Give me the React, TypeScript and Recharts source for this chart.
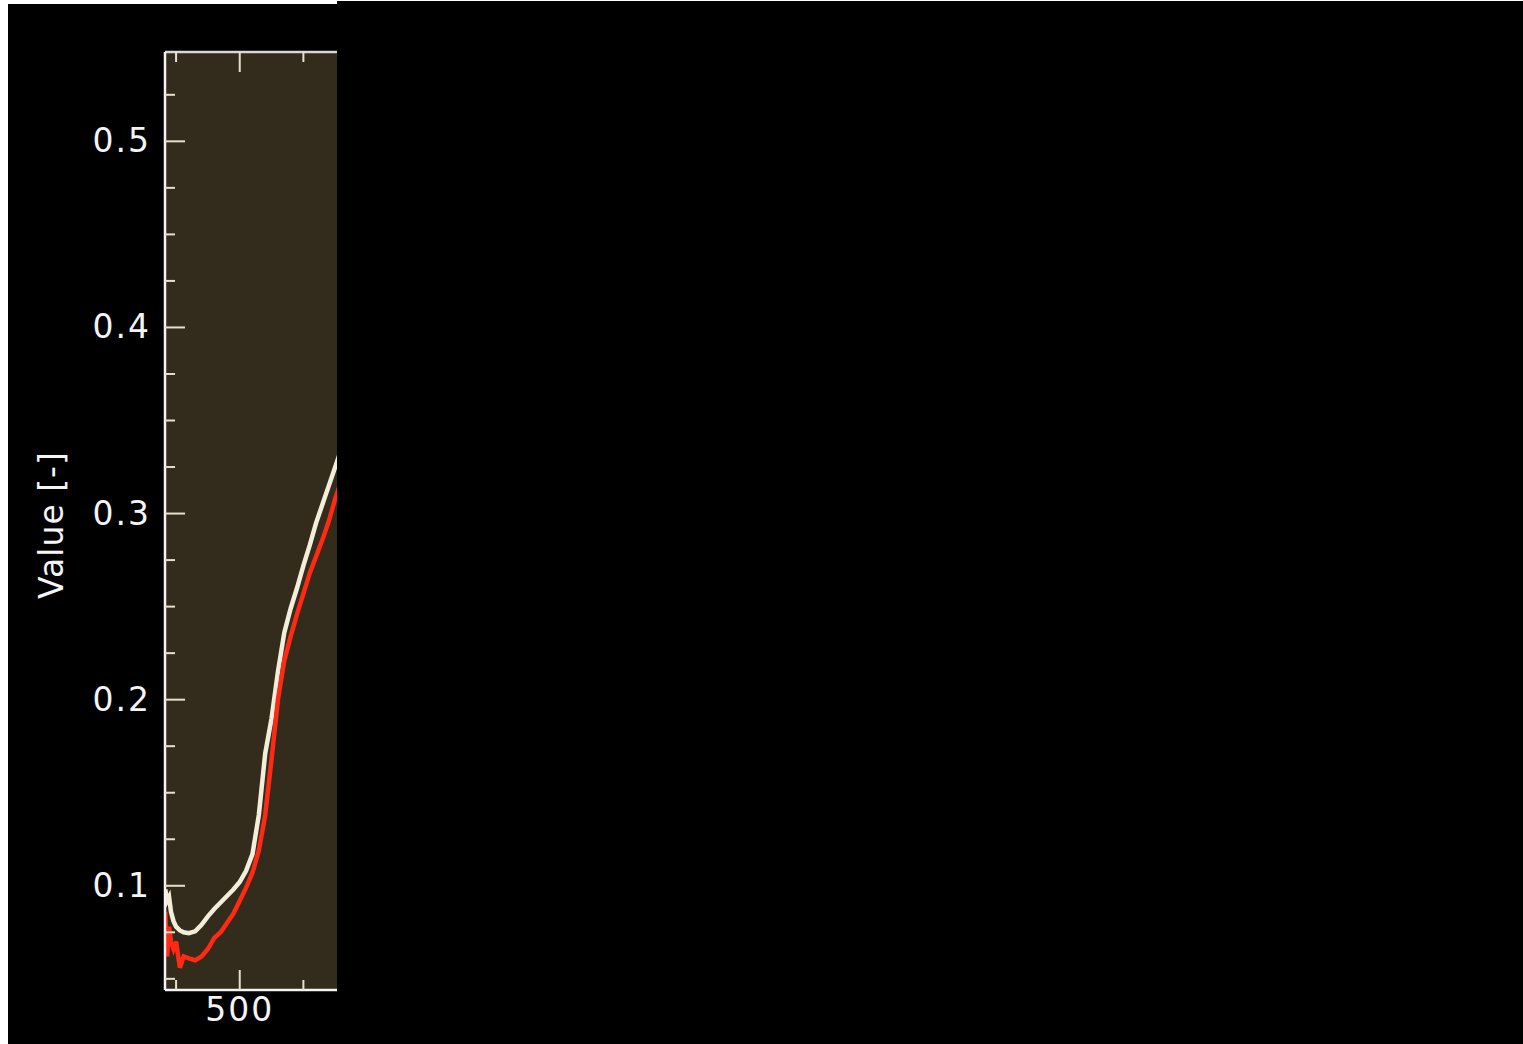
import React from "react";
import { LineChart, Line, XAxis, YAxis, CartesianGrid } from "recharts";

// wavelength [nm]
const wavelengths = [
  441.5, 443, 444.5, 446, 448, 450, 453, 456, 460, 465, 470, 475, 480, 485, 490, 495, 500,
  505, 510, 515, 520, 525, 530, 535, 540, 545, 550, 555, 560, 565, 570, 575, 580, 585,
];
const creamValues = [
  0.098, 0.092, 0.094, 0.086, 0.081, 0.078, 0.076, 0.075, 0.0745, 0.0755, 0.079, 0.0836, 0.0875,
  0.091, 0.0945, 0.098, 0.102, 0.108, 0.117, 0.138, 0.171, 0.19, 0.215, 0.236, 0.249, 0.26,
  0.272, 0.283, 0.295, 0.305, 0.315, 0.325, 0.335, 0.345,
];
const redValues = [
  0.086, 0.062, 0.078, 0.07, 0.066, 0.07, 0.056, 0.062, 0.061, 0.06, 0.062, 0.066, 0.072, 0.075,
  0.08, 0.085, 0.092, 0.099, 0.107, 0.119, 0.138, 0.168, 0.2, 0.221, 0.234, 0.246, 0.257, 0.268,
  0.277, 0.286, 0.296, 0.308, 0.318, 0.328,
];
const xTicks = [450, 500, 550, 600, 650, 700];
const xLabels = [500];
const yTicks = [
  0.05, 0.075, 0.1, 0.125, 0.15, 0.175, 0.2, 0.225, 0.25, 0.275, 0.3, 0.325, 0.35, 0.375, 0.4,
  0.425, 0.45, 0.475, 0.5, 0.525,
];

const data = wavelengths.map((w, i) => ({ w, cream: creamValues[i], red: redValues[i] }));

const AXIS = "#f4f4f4";
const TICK = "#e6e1cc";
const FONT = { fontFamily: "DejaVu Sans", fontSize: 33, fontWeight: 400, letterSpacing: 2 };

const isMajorX = (v: number) => v % 100 === 0;
const isMajorY = (v: number) => Math.round(v * 1000) % 100 === 0;

function BottomTick(props: any) {
  const { x, y, payload } = props;
  const major = isMajorX(payload.value);
  return (
    <g>
      <line x1={x} x2={x} y1={y} y2={y - (major ? 20 : 10)} stroke={TICK} strokeWidth={2} />
      {xLabels.includes(payload.value) && (
        <text x={x} y={y + 31} textAnchor="middle" fill={AXIS} {...FONT}>
          {payload.value}
        </text>
      )}
    </g>
  );
}

function TopTick(props: any) {
  const { x, y, payload } = props;
  const major = isMajorX(payload.value);
  return <line x1={x} x2={x} y1={y} y2={y + (major ? 20 : 10)} stroke={TICK} strokeWidth={2} />;
}

function LeftTick(props: any) {
  const { x, y, payload } = props;
  const major = isMajorY(payload.value);
  return (
    <g>
      <line x1={x} x2={x + (major ? 20 : 10)} y1={y} y2={y} stroke={TICK} strokeWidth={2} />
      {major && (
        <text x={x - 14} y={y + 11} textAnchor="end" fill={AXIS} {...FONT}>
          {payload.value.toFixed(1)}
        </text>
      )}
    </g>
  );
}

function YLabel(props: any) {
  const vb = props.viewBox || { y: 48, height: 938 };
  const cy = vb.y + vb.height / 2 + 4;
  return (
    <text x={55} y={cy} transform={`rotate(-90, 55, ${cy})`} textAnchor="middle" fill={AXIS} {...FONT} letterSpacing={1}>
      Value [-]
    </text>
  );
}

export default function App() {
  return (
    <>
      <div
        style={{
          position: "absolute",
          left: 8,
          top: 4,
          width: 329,
          height: 1040,
          background: "#000",
          overflow: "hidden",
        }}
      >
        <LineChart width={560} height={1040} data={data} margin={{ top: 47, right: 10, bottom: 0, left: 0 }}>
          <CartesianGrid horizontal={false} vertical={false} fill="#332c1d" stroke="none" />
          <XAxis
            xAxisId="bottom"
            dataKey="w"
            type="number"
            domain={[441.3, 750]}
            ticks={xTicks}
            allowDataOverflow
            height={54}
            tickSize={0}
            tickMargin={0}
            tickLine={false}
            axisLine={{ stroke: AXIS, strokeWidth: 2.5 }}
            tick={<BottomTick />}
            interval={0}
          />
          <XAxis
            xAxisId="top"
            orientation="top"
            dataKey="w"
            type="number"
            domain={[441.3, 750]}
            ticks={xTicks}
            allowDataOverflow
            height={1}
            tickSize={0}
            tickMargin={0}
            tickLine={false}
            axisLine={{ stroke: "#d8d8d8", strokeWidth: 2.5 }}
            tick={<TopTick />}
            interval={0}
          />
          <YAxis
            type="number"
            domain={[0.044, 0.548]}
            ticks={yTicks}
            allowDataOverflow
            width={157}
            tickSize={0}
            tickMargin={0}
            tickLine={false}
            axisLine={{ stroke: AXIS, strokeWidth: 2.5 }}
            tick={<LeftTick />}
            interval={0}
            label={<YLabel />}
          />
          <Line
            xAxisId="bottom"
            type="linear"
            dataKey="cream"
            stroke="#f3eed9"
            strokeWidth={4.5}
            dot={false}
            isAnimationActive={false}
          />
          <Line
            xAxisId="bottom"
            type="linear"
            dataKey="red"
            stroke="#ff2a14"
            strokeWidth={4.5}
            dot={false}
            isAnimationActive={false}
          />
        </LineChart>
      </div>
      <div
        style={{
          position: "absolute",
          left: 337,
          top: 1,
          width: 1186,
          height: 1043,
          background: "#000",
        }}
      />
    </>
  );
}
